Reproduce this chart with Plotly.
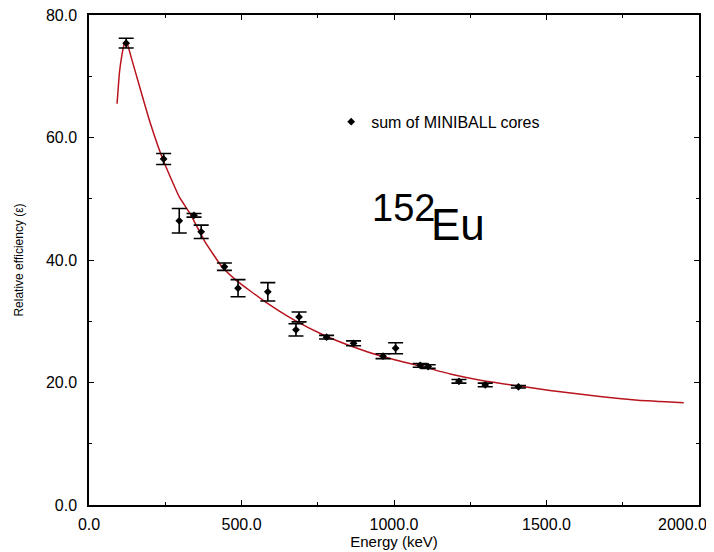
import plotly.graph_objects as go

# Measured points (sum of MINIBALL cores)
energy_keV = [121.8, 244.7, 295.9, 344.3, 367.8, 443.9, 488.7, 586.3, 678.6, 688.7,
              778.9, 867.4, 964.1, 1005.3, 1085.8, 1112.1, 1212.9, 1299.1, 1408.0]
efficiency = [75.4, 56.5, 46.4, 47.3, 44.6, 38.9, 35.4, 34.8, 28.6, 30.7,
              27.4, 26.4, 24.3, 25.6, 22.8, 22.6, 20.2, 19.6, 19.3]
eff_error = [0.8, 0.9, 2.0, 0.3, 1.1, 0.6, 1.4, 1.5, 1.0, 0.8,
             0.3, 0.4, 0.4, 0.9, 0.3, 0.3, 0.3, 0.3, 0.2]

# Fitted efficiency curve
fit_energy = [92, 100, 108, 115, 122, 140, 170, 200, 244, 296, 331, 380, 436, 485,
              577, 669, 767, 856, 964, 1075, 1184, 1292, 1400, 1511, 1675, 1800, 1950]
fit_eff = [65.5, 70.7, 73.5, 75.2, 75.8, 72.8, 67.6, 62.5, 56.2, 50.3, 47.6, 43.0,
           38.9, 36.6, 33.2, 30.3, 27.8, 26.0, 24.2, 22.8, 21.4, 20.3, 19.5, 18.7,
           17.7, 17.1, 16.7]

x_ticks = [0, 500, 1000, 1500, 2000]
x_tick_labels = ["0.0", "500.0", "1000.0", "1500.0", "2000.0"]
y_ticks = [0, 20, 40, 60, 80]
y_tick_labels = ["0.0", "20.0", "40.0", "60.0", "80.0"]

FONT = "Liberation Sans, Arial, sans-serif"

# The page body has an 8px margin: size the figure so the plot lands where
# the reference draws it inside the 714x552 window.
PAGE_OFFSET = 8

fig = go.Figure()
fig.add_trace(go.Scatter(
    x=fit_energy, y=fit_eff, mode="lines",
    line=dict(color="#b8141e", width=1.5, shape="spline", smoothing=0.4),
    showlegend=False, hoverinfo="skip"))
fig.add_trace(go.Scatter(
    x=energy_keV, y=efficiency, mode="markers", name="sum of MINIBALL cores",
    marker=dict(symbol="diamond", size=6, color="black"),
    error_y=dict(type="data", array=eff_error, visible=True, color="black",
                 thickness=1.6, width=7.5)))

axis_common = dict(showgrid=False, zeroline=False, showline=True, linecolor="black",
                   linewidth=1.5, mirror="allticks", ticks="inside", ticklen=5,
                   tickwidth=1, tickcolor="black", automargin=False,
                   ticklabeloverflow="allow",
                   tickfont=dict(family=FONT, size=16, color="black"))

# The last x label sits against the right edge in the reference, so it is
# written right-aligned next to its tick instead of centred on it.
axis_tick_text = x_tick_labels[:-1] + [""]

fig.update_layout(
    width=714 - PAGE_OFFSET, height=552 - PAGE_OFFSET,
    margin=dict(l=89 - PAGE_OFFSET, r=15, t=15 - PAGE_OFFSET, b=47),
    paper_bgcolor="white", plot_bgcolor="white",
    font=dict(family=FONT, color="black"),
    xaxis=dict(range=[0, 2000], tickvals=x_ticks, ticktext=axis_tick_text,
               ticklabelstandoff=4,
               minor=dict(dtick=250, ticks="inside", ticklen=3, tickcolor="black"),
               title=dict(text="Energy (keV)", font=dict(size=15), standoff=3),
               **axis_common),
    yaxis=dict(range=[0, 80], tickvals=y_ticks, ticktext=y_tick_labels,
               ticklabelstandoff=7,
               minor=dict(dtick=10, ticks="inside", ticklen=3, tickcolor="black"),
               title=dict(text="Relative efficiency (ε)", font=dict(size=12), standoff=20),
               **axis_common),
    legend=dict(x=0.397, y=0.782, xanchor="left", yanchor="middle",
                bgcolor="rgba(0,0,0,0)", font=dict(family=FONT, size=16),
                itemwidth=30),
)

fig.add_annotation(xref="x", yref="paper", x=x_ticks[-1], y=0,
                   xanchor="right", yanchor="middle", xshift=9, yshift=-19,
                   showarrow=False, borderpad=0, text=x_tick_labels[-1],
                   font=dict(family=FONT, size=16, color="black"))

fig.add_annotation(xref="paper", yref="paper", x=(370 - 89) / 610, y=(505 - 224) / 490,
                   xanchor="left", yanchor="bottom", yshift=-7, showarrow=False,
                   text="152", font=dict(family=FONT, size=38, color="black"))
fig.add_annotation(xref="paper", yref="paper", x=(429 - 89) / 610, y=(505 - 242) / 490,
                   xanchor="left", yanchor="bottom", yshift=-9, showarrow=False,
                   text="Eu", font=dict(family=FONT, size=44, color="black"))

fig.write_html("out.html")
